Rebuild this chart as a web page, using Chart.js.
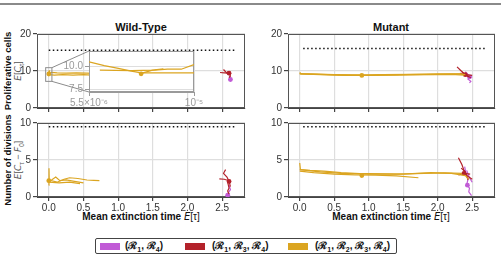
<!DOCTYPE html>
<html>
<head>
<meta charset="utf-8">
<script src="https://cdn.jsdelivr.net/npm/chart.js@4.4.0/dist/chart.umd.min.js"></script>
<style>
  body { margin: 0; background: #fff; }
  #fig { position: relative; width: 501px; height: 257px; overflow: hidden; background: #fff;
         font-family: "Liberation Sans", Arial, sans-serif; color: #111; }
  #fig canvas { position: absolute; }
  .txt { position: absolute; white-space: nowrap; }
  .rot { transform: translate(-50%, -50%) rotate(-90deg); }
  .ctr { transform: translate(-50%, -50%); }
  .math { font-style: italic; font-weight: normal; font-family: "DejaVu Sans", sans-serif; }
  sub { font-size: 70%; line-height: 0; }
  #topline { position: absolute; left: 0; top: 3px; width: 501px; height: 2px; background: #8a8a8a; }
  #legend { position: absolute; left: 95px; top: 238px; width: 300px; height: 14px;
            border: 1px solid #444; border-radius: 2px; }
  .sw { position: absolute; top: 4px; width: 20px; height: 7px; }
  .li { position: absolute; top: 0; font-size: 10px; font-weight: bold; line-height: 14px; }
</style>
</head>
<body>
<div id="fig">
  <div id="topline"></div>

  <div class="txt ctr" style="left:141px;top:27px;font-size:11px;font-weight:bold">Wild-Type</div>
  <div class="txt ctr" style="left:391px;top:27px;font-size:11px;font-weight:bold">Mutant</div>

  <div class="txt rot" style="left:7px;top:71px;font-size:9.5px;font-weight:bold">Proliferative cells</div>
  <div class="txt rot" style="left:18px;top:71px;font-size:9px;color:#555"><span class="math">E</span>[<span class="math">C</span><sub>τ</sub>]</div>
  <div class="txt rot" style="left:7px;top:160px;font-size:9.5px;font-weight:bold">Number of divisions</div>
  <div class="txt rot" style="left:18px;top:160px;font-size:9px;color:#555"><span class="math">E</span>[<span class="math">C</span><sub>τ</sub> − <span class="math">F</span><sub>0</sub>]</div>

  <div class="txt ctr" style="left:141px;top:216px;font-size:10px;font-weight:bold">Mean extinction time <span class="math">E</span><span style="font-weight:normal">[τ]</span></div>
  <div class="txt ctr" style="left:391px;top:216px;font-size:10px;font-weight:bold">Mean extinction time <span class="math">E</span><span style="font-weight:normal">[τ]</span></div>

  <div id="legend"></div>
</div>

<script>
// ---- data ----
var xTicks = [0, 0.5, 1.0, 1.5, 2.0, 2.5];
var yTicksCells = [0, 10, 20];
var yTicksDivs = [0, 5, 10];
var insetXTicks = [5.5e-6, 1e-5];
var insetYTicks = [7.5, 10.0];

var seriesNames = ["(ℛ₁, ℛ₄)", "(ℛ₁, ℛ₃, ℛ₄)", "(ℛ₁, ℛ₂, ℛ₃, ℛ₄)"];
var seriesColors = ["#c15bd6", "#b3222b", "#dba521"];

// Wild-type, proliferative cells
var wtCellsGold = [
  [[0, 9.3], [0.04, 9.6], [0.12, 9.5], [0.25, 9.4], [0.4, 9.5], [0.55, 9.4], [0.73, 9.3]],
  [[0, 9.0], [0.08, 8.9], [0.2, 9.0], [0.35, 8.9], [0.5, 9.0], [0.62, 8.9]],
  [[0, 8.6], [0.005, 10.2], [0.01, 9.2]]
];
var wtCellsGoldMean = [0, 9.2];
var wtCellsRed = [
  [[2.47, 9.6], [2.53, 9.5], [2.6, 9.4]],
  [[2.52, 10.4], [2.55, 9.8], [2.58, 9.3], [2.6, 9.5]],
  [[2.58, 9.9], [2.61, 9.2], [2.62, 8.6], [2.6, 8.2]]
];
var wtCellsRedMean = [2.6, 9.4];
var wtCellsPurple = [
  [[2.6, 8.8], [2.62, 8.1], [2.6, 7.6], [2.63, 7.3]]
];
var wtCellsPurpleMean = [2.62, 7.7];
var wtCellsRef = [[0, 15.6], [2.68, 15.6]];

// Wild-type, number of divisions
var wtDivGold = [
  [[0, 2.1], [0.04, 2.3], [0.1, 2.7], [0.16, 2.2], [0.25, 2.3], [0.35, 2.15], [0.5, 1.9]],
  [[0, 2.3], [0.12, 2.0], [0.22, 2.4], [0.3, 2.6], [0.42, 2.5], [0.55, 2.3], [0.65, 2.25], [0.73, 2.2]],
  [[0, 2.0], [0.15, 1.9], [0.3, 2.0], [0.45, 1.8]],
  [[0, 1.6], [0.003, 3.9], [0.006, 2.4], [0.01, 2.1]]
];
var wtDivGoldMean = [0, 2.2];
var wtDivRed = [
  [[2.46, 2.45], [2.53, 2.4], [2.6, 2.2]],
  [[2.55, 3.7], [2.52, 3.2], [2.57, 2.7], [2.6, 2.1], [2.62, 1.4]],
  [[2.58, 2.0], [2.6, 1.2], [2.58, 0.8], [2.6, 0.4]]
];
var wtDivRedMean = [2.6, 2.1];
var wtDivPurple = [
  [[2.6, 1.6], [2.62, 1.0], [2.59, 0.6], [2.61, 0.2]]
];
var wtDivPurpleMean = [2.58, 0.25];
var wtDivRef = [[0, 9.5], [2.68, 9.5]];

// Mutant, proliferative cells
var mtCellsGold = [
  [[0, 9.6], [0.02, 9.2], [0.3, 9.1], [0.6, 8.9], [0.9, 8.9], [1.2, 9.0], [1.6, 9.1], [2.0, 9.2], [2.3, 9.2], [2.4, 9.0]],
  [[0, 9.2], [0.3, 9.0], [0.7, 8.8], [1.0, 8.8], [1.4, 8.9], [1.8, 9.0], [2.2, 9.1], [2.38, 8.9]],
  [[0, 9.3], [0.5, 9.0], [1.0, 8.9], [1.5, 9.0], [2.0, 9.1], [2.35, 9.2]]
];
var mtCellsGoldMean = [0.9, 8.8];
var mtCellsRed = [
  [[2.28, 11.1], [2.33, 10.2], [2.38, 9.3], [2.45, 8.4]],
  [[2.32, 9.4], [2.4, 9.0], [2.5, 8.8]],
  [[2.35, 9.8], [2.42, 8.8], [2.48, 8.2]]
];
var mtCellsRedMean = [2.4, 9.0];
var mtCellsPurple = [
  [[2.4, 9.8], [2.44, 9.0], [2.47, 8.3], [2.44, 7.8], [2.48, 7.2], [2.46, 6.8]],
  [[2.38, 8.9], [2.45, 8.6], [2.5, 8.3]]
];
var mtCellsPurpleMean = [2.46, 8.4];
var mtCellsRef = [[0.05, 16.1], [2.69, 16.1]];

// Mutant, number of divisions
var mtDivGold = [
  [[0, 4.6], [0.01, 3.7], [0.15, 3.6], [0.35, 3.5], [0.6, 3.3], [1.0, 3.1], [1.4, 3.1], [1.8, 3.2], [2.1, 3.25], [2.35, 3.2]],
  [[0, 3.5], [0.2, 3.3], [0.5, 3.1], [0.8, 3.0], [1.1, 2.95], [1.4, 2.85], [1.72, 2.6]],
  [[0, 3.7], [0.3, 3.4], [0.6, 3.2], [1.0, 3.15], [1.5, 3.1], [1.9, 3.3], [2.2, 3.2], [2.4, 2.9], [2.45, 2.4]]
];
var mtDivGoldMean = [0.9, 2.9];
var mtDivRed = [
  [[2.3, 5.3], [2.35, 4.4], [2.38, 3.6], [2.42, 2.9], [2.5, 2.4]],
  [[2.3, 3.0], [2.38, 3.2], [2.47, 3.1]],
  [[2.34, 3.9], [2.4, 3.4], [2.44, 2.3]]
];
var mtDivRedMean = [2.38, 3.2];
var mtDivPurple = [
  [[2.39, 4.1], [2.41, 3.2], [2.44, 2.4], [2.42, 1.7], [2.46, 1.2], [2.45, 0.7], [2.49, 0.2]],
  [[2.42, 3.6], [2.46, 2.6], [2.5, 2.0]]
];
var mtDivPurpleMean = [2.43, 1.6];
var mtDivRef = [[0.05, 9.5], [2.69, 9.5]];

// Inset of the wild-type cells panel (zoom on x ~ 1e-5)
var insetGold = [
  [[5.5e-6, 10.5], [6.0e-6, 10.1], [6.5e-6, 9.8], [7.0e-6, 9.5], [7.4e-6, 9.3], [8.5e-6, 9.3], [1e-5, 9.3]],
  [[5.85e-6, 9.6], [7e-6, 9.55], [8e-6, 9.6], [8.6e-6, 9.7], [9.3e-6, 9.7], [1e-5, 10.2]],
  [[7.4e-6, 9.25], [7.9e-6, 9.6], [8.4e-6, 9.75]]
];
var insetGoldMean = [7.4e-6, 9.2];
var zoomBoxX = [-0.045, 0.045];
var zoomBoxY = [7.2, 10.9];

// ---- helpers ----
var fig = document.getElementById("fig");
var FONT = { family: "'Liberation Sans', Arial, sans-serif", size: 10 };

function pts(p) { return p.map(function (d) { return { x: d[0], y: d[1] }; }); }

function paths(list, color) {
  return list.map(function (p) {
    return { data: pts(p), showLine: true, borderColor: color, borderWidth: 1.2,
             pointRadius: 0, fill: false, tension: 0 };
  });
}
function mean(pt, color) {
  return { data: pts([pt]), showLine: false, backgroundColor: color, borderColor: color,
           pointRadius: 2.4, borderWidth: 0 };
}
function refLine(p) {
  return { data: pts(p), showLine: true, borderColor: "#111", borderWidth: 1.5,
           borderDash: [1.5, 2.5], pointRadius: 0, fill: false };
}

function framePlugin(color) {
  return {
    id: "frame",
    beforeDatasetsDraw: function (chart) {
      var a = chart.chartArea, c = chart.ctx;
      c.save(); c.strokeStyle = color; c.lineWidth = 1;
      c.strokeRect(Math.round(a.left) + 0.5, Math.round(a.top) + 0.5,
                   Math.round(a.right - a.left) - 1, Math.round(a.bottom - a.top) - 1);
      c.restore();
    }
  };
}

function makeCanvas(box) {
  var cv = document.createElement("canvas");
  var L = box[0], T = box[1], R = box[2], B = box[3];
  cv.width = R - L + 52; cv.height = B - T + 52;
  cv.style.left = (L - 40) + "px"; cv.style.top = (T - 12) + "px";
  fig.appendChild(cv);
  return cv;
}

function tickSetter(vals) {
  return function (s) { s.ticks = vals.map(function (v) { return { value: v }; }); };
}

function panel(box, yMax, yTicks, showX, datasets, extra) {
  var cv = makeCanvas(box);
  return new Chart(cv.getContext("2d"), {
    type: "scatter",
    data: { datasets: datasets },
    options: {
      responsive: false, animation: false, devicePixelRatio: 1,
      layout: { padding: 12 },
      plugins: { legend: { display: false }, tooltip: { enabled: false } },
      scales: {
        x: {
          type: "linear", min: -0.17, max: 2.83,
          afterBuildTicks: tickSetter(xTicks),
          afterFit: function (s) { s.height = 28; },
          ticks: { display: showX, font: FONT, color: "#333", padding: 1, maxRotation: 0,
                   callback: function (v) { return Number(v).toFixed(1); } },
          grid: { color: "#dedede", lineWidth: 1.2, tickColor: "#444", tickLength: 4 },
          border: { color: "#444" }
        },
        y: {
          min: 0, max: yMax,
          afterBuildTicks: tickSetter(yTicks),
          afterFit: function (s) { s.width = 28; },
          ticks: { font: FONT, color: "#333", padding: 2 },
          grid: { color: "#dedede", lineWidth: 1.2, tickColor: "#444", tickLength: 4 },
          border: { color: "#444" }
        }
      }
    },
    plugins: [framePlugin("#555")].concat(extra || [])
  });
}

function panelSets(gold, goldMean, red, redMean, purple, purpleMean, ref) {
  return [refLine(ref)]
    .concat(paths(gold, seriesColors[2]), [mean(goldMean, seriesColors[2])])
    .concat(paths(red, seriesColors[1]), [mean(redMean, seriesColors[1])])
    .concat(paths(purple, seriesColors[0]), [mean(purpleMean, seriesColors[0])]);
}

// ---- panels ----
var boxTL = [37, 34, 245, 108], boxTR = [288, 34, 495, 108];
var boxBL = [37, 123, 245, 197], boxBR = [288, 123, 495, 197];
var boxInset = [89, 51, 194, 92];

var zoomRect = {
  id: "zoomRect",
  afterDatasetsDraw: function (chart) {
    var x = chart.scales.x, y = chart.scales.y, c = chart.ctx;
    var x0 = x.getPixelForValue(zoomBoxX[0]), x1 = x.getPixelForValue(zoomBoxX[1]);
    var y0 = y.getPixelForValue(zoomBoxY[1]), y1 = y.getPixelForValue(zoomBoxY[0]);
    c.save(); c.strokeStyle = "#8c8c8c"; c.lineWidth = 1;
    c.strokeRect(x0, y0, x1 - x0, y1 - y0); c.restore();
  }
};

var chartTL = panel(boxTL, 20, yTicksCells, false,
  panelSets(wtCellsGold, wtCellsGoldMean, wtCellsRed, wtCellsRedMean, wtCellsPurple, wtCellsPurpleMean, wtCellsRef),
  [zoomRect]);
panel(boxTR, 20, yTicksCells, false,
  panelSets(mtCellsGold, mtCellsGoldMean, mtCellsRed, mtCellsRedMean, mtCellsPurple, mtCellsPurpleMean, mtCellsRef));
panel(boxBL, 10, yTicksDivs, true,
  panelSets(wtDivGold, wtDivGoldMean, wtDivRed, wtDivRedMean, wtDivPurple, wtDivPurpleMean, wtDivRef));
panel(boxBR, 10, yTicksDivs, true,
  panelSets(mtDivGold, mtDivGoldMean, mtDivRed, mtDivRedMean, mtDivPurple, mtDivPurpleMean, mtDivRef));

// ---- inset ----
var insetCanvas = makeCanvas(boxInset);
var insetPlugin = {
  id: "insetBits",
  beforeDraw: function (chart) {
    var a = chart.chartArea, c = chart.ctx;
    c.save(); c.fillStyle = "#fff"; c.fillRect(a.left, a.top, a.right - a.left, a.bottom - a.top); c.restore();
  },
  afterDraw: function (chart) {
    // connector lines from the zoom rectangle to the inset corners
    var a = chart.chartArea, c = chart.ctx;
    var dx = boxTL[0] - boxInset[0], dy = boxTL[1] - boxInset[1];
    var sx = chartTL.scales.x, sy = chartTL.scales.y;
    var rx = sx.getPixelForValue(zoomBoxX[1]) + dx;
    var rTop = sy.getPixelForValue(zoomBoxY[1]) + dy, rBot = sy.getPixelForValue(zoomBoxY[0]) + dy;
    c.save(); c.strokeStyle = "#8c8c8c"; c.lineWidth = 1;
    c.beginPath();
    c.moveTo(rx, rTop); c.lineTo(a.left, a.top);
    c.moveTo(rx, rBot); c.lineTo(a.left, a.bottom);
    c.stroke(); c.restore();
  }
};
new Chart(insetCanvas.getContext("2d"), {
  type: "scatter",
  data: { datasets: paths(insetGold, seriesColors[2]).concat([mean(insetGoldMean, seriesColors[2])]) },
  options: {
    responsive: false, animation: false, devicePixelRatio: 1,
    layout: { padding: 12 },
    plugins: { legend: { display: false }, tooltip: { enabled: false } },
    scales: {
      x: {
        type: "logarithmic", min: insetXTicks[0], max: insetXTicks[1],
        afterBuildTicks: tickSetter(insetXTicks),
        afterFit: function (s) { s.height = 28; },
        ticks: { font: FONT, color: "#9a9a9a", padding: 1, maxRotation: 0, autoSkip: false,
                 callback: function (v) { return v < 8e-6 ? "5.5×10⁻⁶" : "10⁻⁵"; } },
        grid: { color: "#dedede", tickColor: "#9a9a9a", tickLength: 4 },
        border: { color: "#9a9a9a" }
      },
      y: {
        min: 7.2, max: 11.7,
        afterBuildTicks: tickSetter(insetYTicks),
        afterFit: function (s) { s.width = 28; },
        ticks: { font: FONT, color: "#9a9a9a", padding: 2,
                 callback: function (v) { return Number(v).toFixed(1); } },
        grid: { color: "#dedede", tickColor: "#9a9a9a", tickLength: 4 },
        border: { color: "#9a9a9a" }
      }
    }
  },
  plugins: [insetPlugin, framePlugin("#9a9a9a")]
});

// ---- legend ----
var legend = document.getElementById("legend");
var swatchX = [4, 89, 192], labelX = [29, 116, 219];
var subDigits = { "₁": "1", "₂": "2", "₃": "3", "₄": "4" };
seriesNames.forEach(function (name, i) {
  var sw = document.createElement("div");
  sw.className = "sw"; sw.style.left = swatchX[i] + "px"; sw.style.background = seriesColors[i];
  legend.appendChild(sw);
  var t = document.createElement("div");
  t.className = "li"; t.style.left = labelX[i] + "px";
  // show subscript digits with <sub> so they stay readable
  t.innerHTML = name.replace(/[₁₂₃₄]/g, function (ch) { return "<sub>" + subDigits[ch] + "</sub>"; });
  legend.appendChild(t);
});
</script>
</body>
</html>
